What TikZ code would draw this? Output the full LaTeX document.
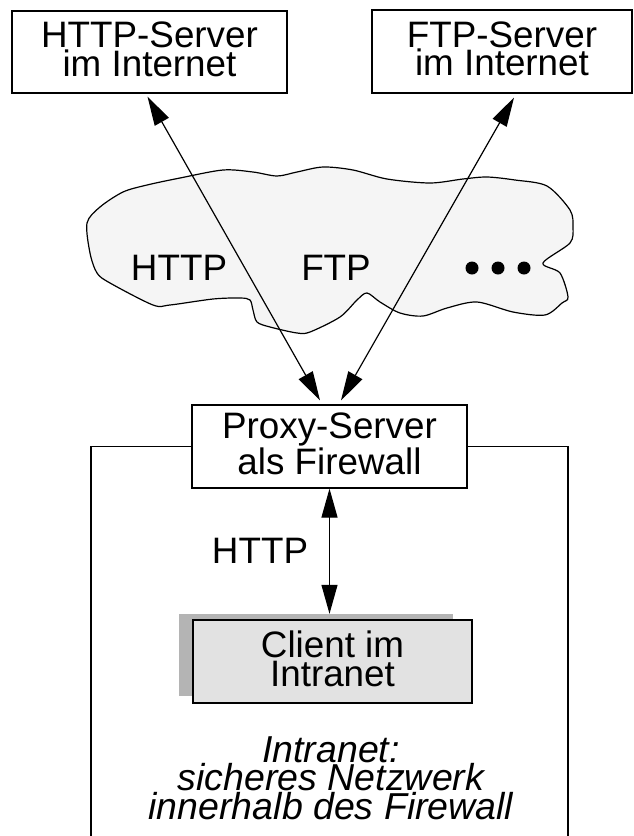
\documentclass[tikz,border=0pt]{standalone}
\usepackage{fontspec}
\setmainfont{Liberation Sans}
\usetikzlibrary{arrows.meta,backgrounds}
\definecolor{cloudfill}{RGB}{245,245,245}
\definecolor{clientfill}{RGB}{226,226,226}
\definecolor{shadowfill}{RGB}{180,180,180}
\begin{document}
\begin{tikzpicture}[x=1pt,y=-1pt,
  box/.style={draw,line width=1.2pt,fill=white,rectangle,inner sep=0pt,align=center,text depth=6pt,font=\fontsize{36.8}{28.5}\selectfont},
  lbl/.style={font=\fontsize{36.8}{28.5}\selectfont,inner sep=0pt,anchor=base},
  dbl/.style={line width=1.2pt,{Triangle[length=29pt,width=16pt]}-{Triangle[length=29pt,width=16pt]}},
]
\useasboundingbox (0,0) rectangle (634,836);
% cloud
\draw[line width=1.2pt,fill=cloudfill] plot[smooth cycle,tension=0.5] coordinates {
 (87,223) (100,207) (123,192) (147,185) (180,178) (223,170) (253,172) (277,176)
 (297,172) (323,167) (353,170) (387,179) (430,183) (463,179) (487,177) (515,180)
 (547,186) (570,210) (573,227) (570,243) (543,263) (560,273) (568,297) (562,303)
 (545,315) (513,312) (477,302) (447,308) (423,316) (400,313) (380,302) (367,293)
 (357,300) (340,317) (310,332) (297,333) (270,327) (257,322) (253,310) (250,300)
 (240,298) (213,299) (170,305) (153,305) (110,283) (97,273) (90,253)};
\node[lbl] (cloudhttp) at (179,280) {HTTP};
\node[lbl] (cloudftp) at (336,280) {FTP};
\foreach \x in {472,498,524} \fill (\x,268) circle[radius=6.5pt];
% boxes
\node[box,minimum width=275pt,minimum height=82pt] (httpsrv) at (149.5,52) {HTTP-Server\\im Internet};
\node[box,minimum width=260pt,minimum height=83pt] (ftpsrv) at (502,51.5) {FTP-Server\\im Internet};
\node[box,minimum width=275pt,minimum height=83pt] (proxy) at (329.5,446.5) {Proxy-Server\\als Firewall};
\node[fill=shadowfill,inner sep=0pt,minimum width=274pt,minimum height=82pt] (shadow) at (316,655) {};
\node[box,fill=clientfill,minimum width=279pt,minimum height=83pt] (client) at (332.5,661.5) {Client im\\Intranet};
% intranet frame
\begin{scope}[on background layer]
\draw[line width=1.2pt] (91,836) |- (proxy.center) -| (568,836);
\end{scope}
% connectors
\draw[dbl] ([xshift=-9.5pt,yshift=4pt]proxy.north) -- ([xshift=-2pt,yshift=-3pt]httpsrv.south);
\draw[dbl] ([xshift=11.5pt,yshift=4pt]proxy.north) -- ([xshift=12pt,yshift=-4pt]ftpsrv.south);
\draw[dbl] (proxy.south) -- (proxy.south |- shadow.north);
\node[lbl] (midhttp) at (260,563) {HTTP};
\node[font=\itshape\fontsize{37.5}{26}\selectfont,align=center,inner sep=0pt] (intranet) at (331,778) {Intranet:\\sicheres Netzwerk\\innerhalb des Firewall};
\end{tikzpicture}
\end{document}
